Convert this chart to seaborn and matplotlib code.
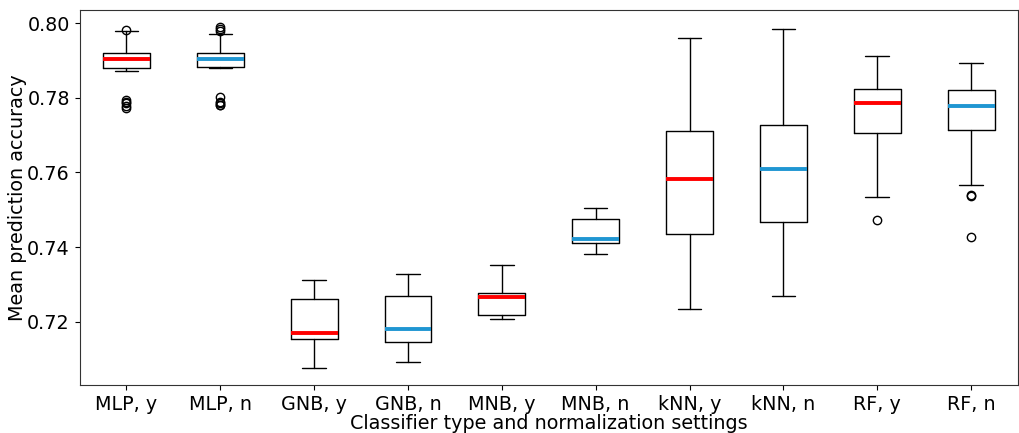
import numpy as np
import seaborn as sns
import matplotlib.pyplot as plt

# classifier / normalization settings
labels = ["MLP, y", "MLP, n", "GNB, y", "GNB, n", "MNB, y",
          "MNB, n", "kNN, y", "kNN, n", "RF, y", "RF, n"]

# box statistics
whislo = [0.7871, 0.7880, 0.7076, 0.7092, 0.7207, 0.7382, 0.7234, 0.7268, 0.7535, 0.7567]
q1     = [0.7880, 0.7882, 0.7153, 0.7145, 0.7217, 0.7410, 0.7436, 0.7467, 0.7705, 0.7715]
med    = [0.7904, 0.7905, 0.7170, 0.7181, 0.7265, 0.7422, 0.7582, 0.7608, 0.7786, 0.7777]
q3     = [0.7919, 0.7919, 0.7262, 0.7270, 0.7277, 0.7474, 0.7711, 0.7726, 0.7823, 0.7820]
whishi = [0.7978, 0.7972, 0.7312, 0.7328, 0.7352, 0.7505, 0.7960, 0.7984, 0.7911, 0.7893]
fliers = [
    [0.7982, 0.7795, 0.7790, 0.7786, 0.7778, 0.7773],
    [0.7990, 0.7985, 0.7978, 0.7803, 0.7790, 0.7785, 0.7782, 0.7780],
    [], [], [], [], [], [],
    [0.7473],
    [0.7540, 0.7537, 0.7427],
]

sns.set_style("ticks")
plt.rcParams['font.family'] = ['DejaVu Sans']
plt.rcParams['text.color'] = 'black'
plt.rcParams['axes.labelcolor'] = 'black'
plt.rcParams['xtick.color'] = 'black'
plt.rcParams['ytick.color'] = 'black'

fig, ax = plt.subplots(figsize=(10.2, 4.33), dpi=100)

stats = []
for i in range(len(labels)):
    stats.append(dict(label=labels[i], whislo=whislo[i], q1=q1[i], med=med[i],
                      q3=q3[i], whishi=whishi[i], fliers=fliers[i]))

bp = ax.bxp(stats, widths=0.5, patch_artist=False,
            boxprops=dict(color="black", linewidth=1.0),
            whiskerprops=dict(color="black", linewidth=1.0),
            capprops=dict(color="black", linewidth=1.0),
            flierprops=dict(marker="o", markerfacecolor="none",
                            markeredgecolor="black", markersize=6),
            medianprops=dict(linewidth=2.8))

for i, line in enumerate(bp["medians"]):
    line.set_color("#ff0000" if i % 2 == 0 else "#1f96d2")

ax.margins(y=0.05)
ax.set_yticks([0.72, 0.74, 0.76, 0.78, 0.80])
ax.tick_params(labelsize=13.8, length=3.5, width=0.8)
ax.set_ylabel("Mean prediction accuracy", fontsize=13.8, labelpad=0)
ax.set_xlabel("Classifier type and normalization settings", fontsize=13.8, labelpad=0.5)
for s in ax.spines.values():
    s.set_color("#333333")

plt.subplots_adjust(left=0.078, right=0.998, bottom=0.111, top=0.977)
plt.savefig("out.png")
